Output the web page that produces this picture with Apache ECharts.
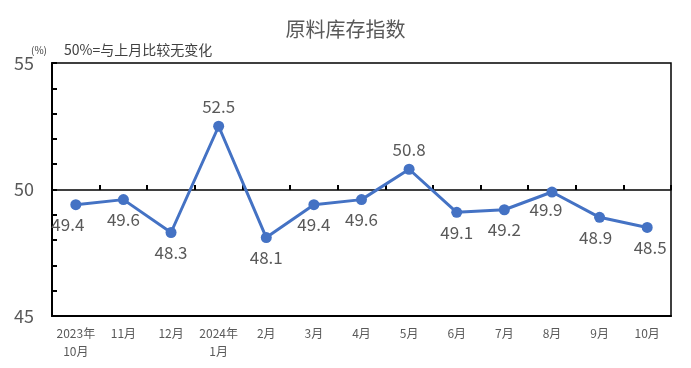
<!DOCTYPE html>
<html><head><meta charset="utf-8">
<script src="https://cdn.jsdelivr.net/npm/echarts@6/dist/echarts.min.js"></script>
<style>html,body{margin:0;padding:0;background:#fff}#c{width:691px;height:368px}</style>
</head><body><div id="c"></div>
<script>
const categories = ['2023年\n10月','11月','12月','2024年\n1月','2月','3月','4月','5月','6月','7月','8月','9月','10月'];
const values = [49.4,49.6,48.3,52.5,48.1,49.4,49.6,50.8,49.1,49.2,49.9,48.9,48.5];
const labelAbove = [false,false,false,true,false,false,false,true,false,false,false,false,false];
const yTickLabels = [45,50,55];
const title = '原料库存指数';
const unitText = '(%)';
const noteText = '50%=与上月比较无变化';

const FONT = '"Noto Sans CJK SC", "Noto Sans", sans-serif';
const chart = echarts.init(document.getElementById('c'));
const labelOffsets = {0:[-8,0],10:[-6,-2],11:[-4,0],12:[3,0]};
const data = values.map((v,i)=>({
  value: v,
  label: labelAbove[i] ? {position:'top', distance:6} : {position:'bottom', distance:6, offset: labelOffsets[i]||[0,0]}
}));
chart.setOption({
  animation:false,
  title:[
    {text:title,left:'center',top:14,textStyle:{fontFamily:FONT,fontSize:20,fontWeight:'normal',color:'#595959'}},
    {text:unitText,left:26,top:40,textStyle:{fontFamily:FONT,fontSize:10,fontWeight:'normal',color:'#404040'}},
    {text:noteText,left:59,top:38,textStyle:{fontFamily:FONT,fontSize:14,fontWeight:'normal',color:'#404040'}}
  ],
  grid:[
    {left:52,right:20,top:63,bottom:52,show:true,borderColor:'#000',borderWidth:1.5,backgroundColor:'transparent'},
    {left:52,right:20,top:63,bottom:178,show:false}
  ],
  xAxis:[
    {type:'category',data:categories,position:'bottom',gridIndex:0,
     axisLine:{show:true,onZero:false,lineStyle:{color:'#000',width:2}},
     axisTick:{show:false},
     axisLabel:{fontFamily:FONT,fontSize:12,color:'#595959',margin:8,lineHeight:18,interval:0}},
    {type:'value',min:0,max:categories.length,interval:1,position:'bottom',gridIndex:1,
     axisLine:{show:true,onZero:false,lineStyle:{color:'#000',width:1.5}},
     axisTick:{show:true,inside:true,length:5,lineStyle:{color:'#000',width:2}},
     splitLine:{show:false},
     axisLabel:{show:false}}
  ],
  yAxis:[
    {type:'value',min:45,max:55,interval:1,gridIndex:0,
    axisLine:{show:true,lineStyle:{color:'#000',width:2}},
    axisTick:{show:true,inside:true,length:5,lineStyle:{color:'#000',width:2}},
    splitLine:{show:false},
    axisLabel:{fontFamily:FONT,fontSize:18,color:'#595959',margin:18,
      formatter:v=>yTickLabels.includes(v)?String(v):''}},
    {type:'value',min:50,max:55,gridIndex:1,show:false}
  ],
  series:[{type:'line',data:data,xAxisIndex:0,yAxisIndex:0,z:5,
    lineStyle:{color:'#4472C4',width:3},
    itemStyle:{color:'#4472C4'},
    symbol:'circle',symbolSize:11,
    label:{show:true,fontFamily:FONT,fontSize:17,color:'#595959'}}]
});
</script></body></html>
